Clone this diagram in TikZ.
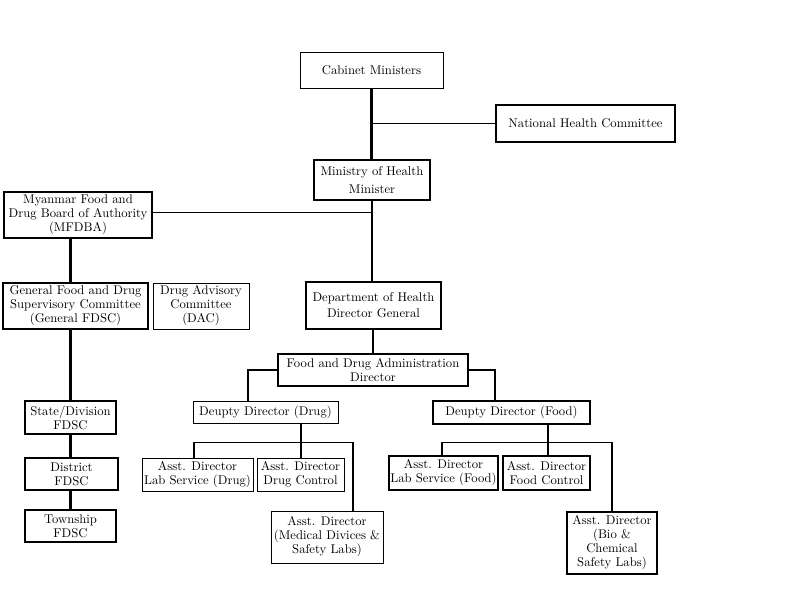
\documentclass[tikz,border=0pt]{standalone}
\usepackage{fontspec}
\begin{document}
\begin{tikzpicture}[x=0.75pt,y=-0.75pt,
  base/.style={rectangle, align=center, inner sep=0pt, font=\fontsize{9.5}{10.5}\selectfont},
  thinbox/.style={base, draw, line width=0.6pt},
  thickbox/.style={base, draw, line width=1.8pt},
  sz/.style 2 args={minimum width=#1*0.75pt, minimum height=#2*0.75pt},
  thk/.style={line width=1.8pt},
  thn/.style={line width=0.6pt}]
\useasboundingbox (0,0) rectangle (800,600);
% nodes
\node[thinbox, sz={143}{36}]  (cab)   at (371.5,70)  {Cabinet Ministers};
\node[thickbox, sz={179}{37}] (nhc)   at (585.5,123.5) {National Health Committee};
\node[thickbox, sz={116}{40}] (moh)   at (372,180)   {Ministry of Health\\[3pt]Minister};
\node[thickbox, sz={148}{46}] (mfdba) at (78,215)    {Myanmar Food and\\Drug Board of Authority\\(MFDBA)};
\node[thickbox, sz={145}{46}] (gfdsc) at (75.5,306)  {General Food and Drug\\Supervisory Committee\\(General FDSC)};
\node[thinbox, sz={96}{46}]   (dac)   at (201,306)   {Drug Advisory\\Committee\\(DAC)};
\node[thickbox, sz={135}{47}] (doh)   at (373.5,305.5) {Department of Health\\[1.5pt]Director General};
\node[thickbox, sz={190}{32}] (fda)   at (373,370)   {Food and Drug Administration\\Director};
\node[thinbox, sz={145}{22}]  (ddd)   at (265.5,412) {Deupty Director (Drug)};
\node[thickbox, sz={157}{23}] (ddf)   at (511.5,412.5) {Deupty Director (Food)};
\node[thinbox, sz={111}{33}]  (lsd)   at (197.5,474.5) {Asst. Director\\Lab Service (Drug)};
\node[thinbox, sz={87}{33}]   (dc)    at (300.5,474.5) {Asst. Director\\Drug Control};
\node[thinbox, sz={112}{52}]  (md)    at (327,537)   {Asst. Director\\(Medical Divices \&\\Safety Labs)};
\node[thickbox, sz={109}{34}] (lsf)   at (443.5,473) {Asst. Director\\Lab Service (Food)};
\node[thickbox, sz={87}{34}]  (fc)    at (546.5,473) {Asst. Director\\Food Control};
\node[thickbox, sz={90}{62}]  (bio)   at (612,543)   {Asst. Director\\(Bio \&\\Chemical\\Safety Labs)};
\node[thickbox, sz={91}{33}]  (sd)    at (70.5,417.5) {State/Division\\FDSC};
\node[thickbox, sz={93}{32}]  (dis)   at (71.5,474)  {District\\FDSC};
\node[thickbox, sz={91}{32}]  (tws)   at (70.5,526)  {Township\\FDSC};
% helper coordinates
\coordinate (j1) at (372,212);
\coordinate (cdd) at (248,401);
\coordinate (cdf) at (495,401);
\coordinate (bd) at (301,442);
\coordinate (bdl) at (194,442);
\coordinate (bdr) at (353,442);
\coordinate (bf) at (548,442);
\coordinate (bfl) at (442,442);
\coordinate (bfr) at (612,442);
% connectors
\draw[thk] (cab.south) -- (cab.south |- moh.north);
\draw[thn] (cab.south |- nhc.west) -- (nhc.west);
\draw[thk] (moh.south) -- (moh.south |- doh.north);
\draw[thn] (mfdba.east |- j1) -- (j1);
\draw[thk] (mfdba.south -| sd.north) -- (gfdsc.north -| sd.north);
\draw[thk] (gfdsc.south -| sd.north) -- (sd.north);
\draw[thk] (sd.south) -- (dis.north -| sd.south);
\draw[thk] (dis.south -| sd.south) -- (tws.north -| sd.south);
\draw[thk] (doh.south -| fda.north) -- (fda.north);
\draw[thk] (fda.west) -| (cdd);
\draw[thk] (fda.east) -| (cdf);
% drug branch
\draw[thk] (ddd.south -| bd) -- (bd);
\draw[thn] (bdl) -- (bdr);
\draw[thk] (bdl) -- (bdl |- lsd.north);
\draw[thk] (bd) -- (bd |- dc.north);
\draw[thk] (bdr) -- (bdr |- md.north);
% food branch
\draw[thk] (ddf.south -| bf) -- (bf);
\draw[thn] (bfl) -- (bfr);
\draw[thk] (bfl) -- (bfl |- lsf.north);
\draw[thk] (bf) -- (bf |- fc.north);
\draw[thk] (bfr) -- (bio.north);
\end{tikzpicture}
\end{document}
